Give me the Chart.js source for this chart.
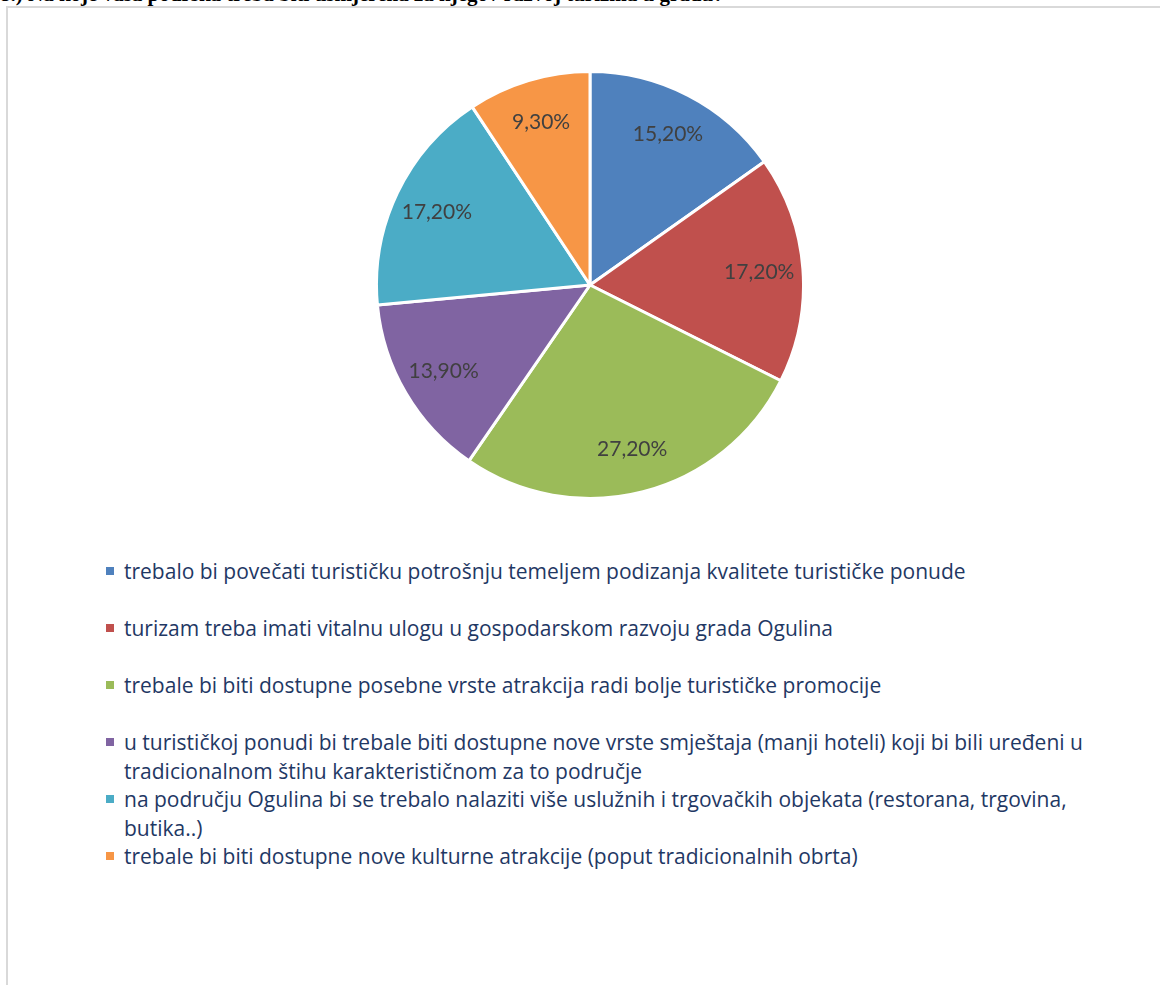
<!DOCTYPE html>
<html>
<head>
<meta charset="utf-8">
<script src="https://cdn.jsdelivr.net/npm/chart.js@4.4.1/dist/chart.umd.min.js"></script>
<style>
  html, body { margin: 0; padding: 0; background: #fff; width: 1160px; height: 985px; overflow: hidden; position: relative; }
  #title { position: absolute; left: 0; top: -18px; font: bold 21px "Liberation Serif", "Times New Roman", serif; color: #000; white-space: nowrap; }
  #box { position: absolute; left: 6px; top: 6px; width: 1200px; height: 1100px; border: 2px solid #d9d9d9; background: #fff; box-sizing: border-box; }
  #pieWrap { position: absolute; left: 375px; top: 70px; width: 430px; height: 430px; }
  #legend { position: absolute; left: 104px; top: 557px; width: 1006px; margin: 0; padding: 0; list-style: none; font-family: "Open Sans", Lato, sans-serif; font-size: 21px; color: #1f3864; }
  #legend li { position: relative; height: 57px; line-height: 28.5px; padding-left: 20px; }
  #legend li .sw { position: absolute; left: 2px; top: 10px; width: 8px; height: 8px; }
</style>
</head>
<body>
<div id="title">8.) Na koje vaša podrška treba biti usmjerena za njegov razvoj turizma u gradu?</div>
<div id="box"></div>
<div id="pieWrap"><canvas id="c"></canvas></div>
<ul id="legend"></ul>
<script>
const categories = [
  "trebalo bi povečati turističku potrošnju temeljem podizanja kvalitete turističke ponude",
  "turizam treba imati vitalnu ulogu u gospodarskom razvoju grada Ogulina",
  "trebale bi biti dostupne posebne vrste atrakcija radi bolje turističke promocije",
  "u turističkoj ponudi bi trebale biti dostupne nove vrste smještaja (manji hoteli) koji bi bili uređeni u tradicionalnom štihu karakterističnom za to područje",
  "na području Ogulina bi se trebalo nalaziti više uslužnih i trgovačkih objekata (restorana, trgovina, butika..)",
  "trebale bi biti dostupne nove kulturne atrakcije (poput tradicionalnih obrta)"
];
const percentages = [15.2, 17.2, 27.2, 13.9, 17.2, 9.3];
const colors = ["#4f81bd", "#c0504d", "#9bbb59", "#8064a2", "#4bacc6", "#f79646"];

const fmt = v => v.toFixed(2).replace('.', ',') + '%';

const labelPlugin = {
  id: 'sliceLabels',
  afterDatasetsDraw(chart) {
    const ctx = chart.ctx;
    const meta = chart.getDatasetMeta(0);
    ctx.save();
    ctx.font = '21px Lato, "Open Sans", sans-serif';
    ctx.fillStyle = '#404040';
    ctx.textAlign = 'center';
    ctx.textBaseline = 'middle';
    meta.data.forEach((arc, i) => {
      const p = arc.getProps(['startAngle', 'endAngle', 'outerRadius', 'x', 'y'], true);
      const a = (p.startAngle + p.endAngle) / 2;
      const r = p.outerRadius * 0.795;
      ctx.fillText(fmt(chart.data.datasets[0].data[i]), p.x + Math.cos(a) * r, p.y + Math.sin(a) * r);
    });
    ctx.restore();
  }
};

const chart = new Chart(document.getElementById('c'), {
  type: 'pie',
  data: {
    labels: categories,
    datasets: [{ data: percentages, backgroundColor: colors, borderColor: '#ffffff', borderWidth: 3 }]
  },
  options: {
    responsive: true,
    maintainAspectRatio: false,
    animation: false,
    layout: { padding: 0 },
    plugins: { legend: { display: false }, tooltip: { enabled: false }, title: { display: false } }
  },
  plugins: [labelPlugin]
});

const ul = document.getElementById('legend');
chart.options.plugins.legend.labels.generateLabels(chart).forEach(item => {
  const li = document.createElement('li');
  const sw = document.createElement('span');
  sw.className = 'sw';
  sw.style.background = item.fillStyle;
  li.appendChild(sw);
  li.appendChild(document.createTextNode(item.text));
  ul.appendChild(li);
});
</script>
</body>
</html>
